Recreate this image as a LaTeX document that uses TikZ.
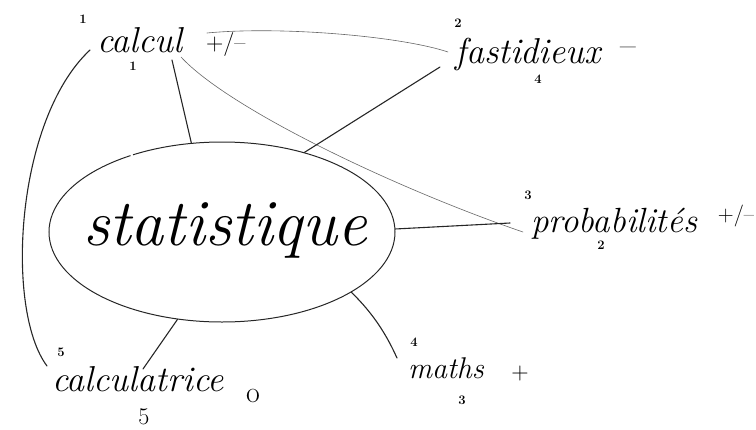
\documentclass[tikz,border=0pt]{standalone}
\usetikzlibrary{shapes.geometric}
\begin{document}
\begin{tikzpicture}[x=1pt,y=-1pt,
  ink/.style={line width=1.1pt,black!85,line cap=round},
  faint/.style={line width=0.6pt,black!60,line cap=round},
  word/.style={inner sep=0pt,anchor=base west,font=\fontsize{36}{40}\selectfont\itshape},
  sign/.style={inner sep=0pt,font=\fontsize{24}{28}\selectfont},
  num/.style={inner sep=0pt,font=\fontsize{13}{15}\selectfont\bfseries}]
\useasboundingbox (0,0) rectangle (756,429);

% central ellipse
\node[ellipse,draw,line width=1pt,black!85,minimum width=346pt,minimum height=180pt,inner sep=0pt] (stat) at (222,232) {};
\node[inner sep=0pt,font=\fontsize{66}{72}\selectfont\itshape] (statT) at (225,230) {statistique};

% words
\node[word] (calcul) at (97,52) {calcul};
\node[sign,anchor=west] (calculs) at (206,44) {+/--};
\node[num] (calculn1) at (83,19) {1};
\node[num] (calculn2) at (133,66) {1};

\node[word] (fast) at (455,63) {fastidieux};
\node[sign,font=\fontsize{34}{36}\selectfont] (fasts) at (628,52) {--};
\node[num] (fastn1) at (458,23) {2};
\node[num] (fastn2) at (538,79) {4};

\node[word,font=\fontsize{35}{40}\selectfont\itshape] (proba) at (531,232) {probabilités};
\node[sign,font=\fontsize{22}{26}\selectfont] (probas) at (736,216) {+/--};
\node[num] (proban1) at (528,195) {3};
\node[num] (proban2) at (601,245) {2};

\node[word,font=\fontsize{30}{34}\selectfont\itshape] (maths) at (408,378) {maths};
\node[sign] (mathss) at (520,374) {+};
\node[num] (mathsn1) at (414,342) {4};
\node[num] (mathsn2) at (462,400) {3};

\node[word] (calc) at (52,391) {calculatrice};
\node[sign,font=\fontsize{30}{34}\selectfont] (calcs) at (253,396) {o};
\node[num] (calcn1) at (61,352) {5};
\node[inner sep=0pt,font=\fontsize{24}{28}\selectfont] (calcn2) at (144,417) {5};

% connector end points
\coordinate (cA) at (172,60);
\coordinate (cB) at (181,57);
\coordinate (cC) at (90,50);
\coordinate (cD) at (207,33);
\coordinate (fA) at (440,67);
\coordinate (fB) at (448,52);
\coordinate (pA) at (510,223);
\coordinate (pB) at (523,232);
\coordinate (mA) at (397,358);
\coordinate (kA) at (143,369);
\coordinate (kB) at (47,366);

% connectors
\draw[ink] (cA) -- (stat.109.6);
\draw[faint] (cB) .. controls (230,110) and (400,190) .. (pB);
\draw[faint] (cD) .. controls (280,26) and (400,36) .. (fB);
\draw[ink] (cC) .. controls (15,120) and (5,310) .. (kB);
\draw[ink] (fA) -- (stat.44.3);
\draw[ink] (stat.1) -- (pA);
\draw[ink] (stat.-25.5) .. controls (375,315) and (388,338) .. (mA);
\draw[ink] (stat.-117.3) -- (kA);
% small gap in the ellipse outline
\draw[white,line width=3pt] (stat.140.5) -- (stat.139);
\end{tikzpicture}
\end{document}
